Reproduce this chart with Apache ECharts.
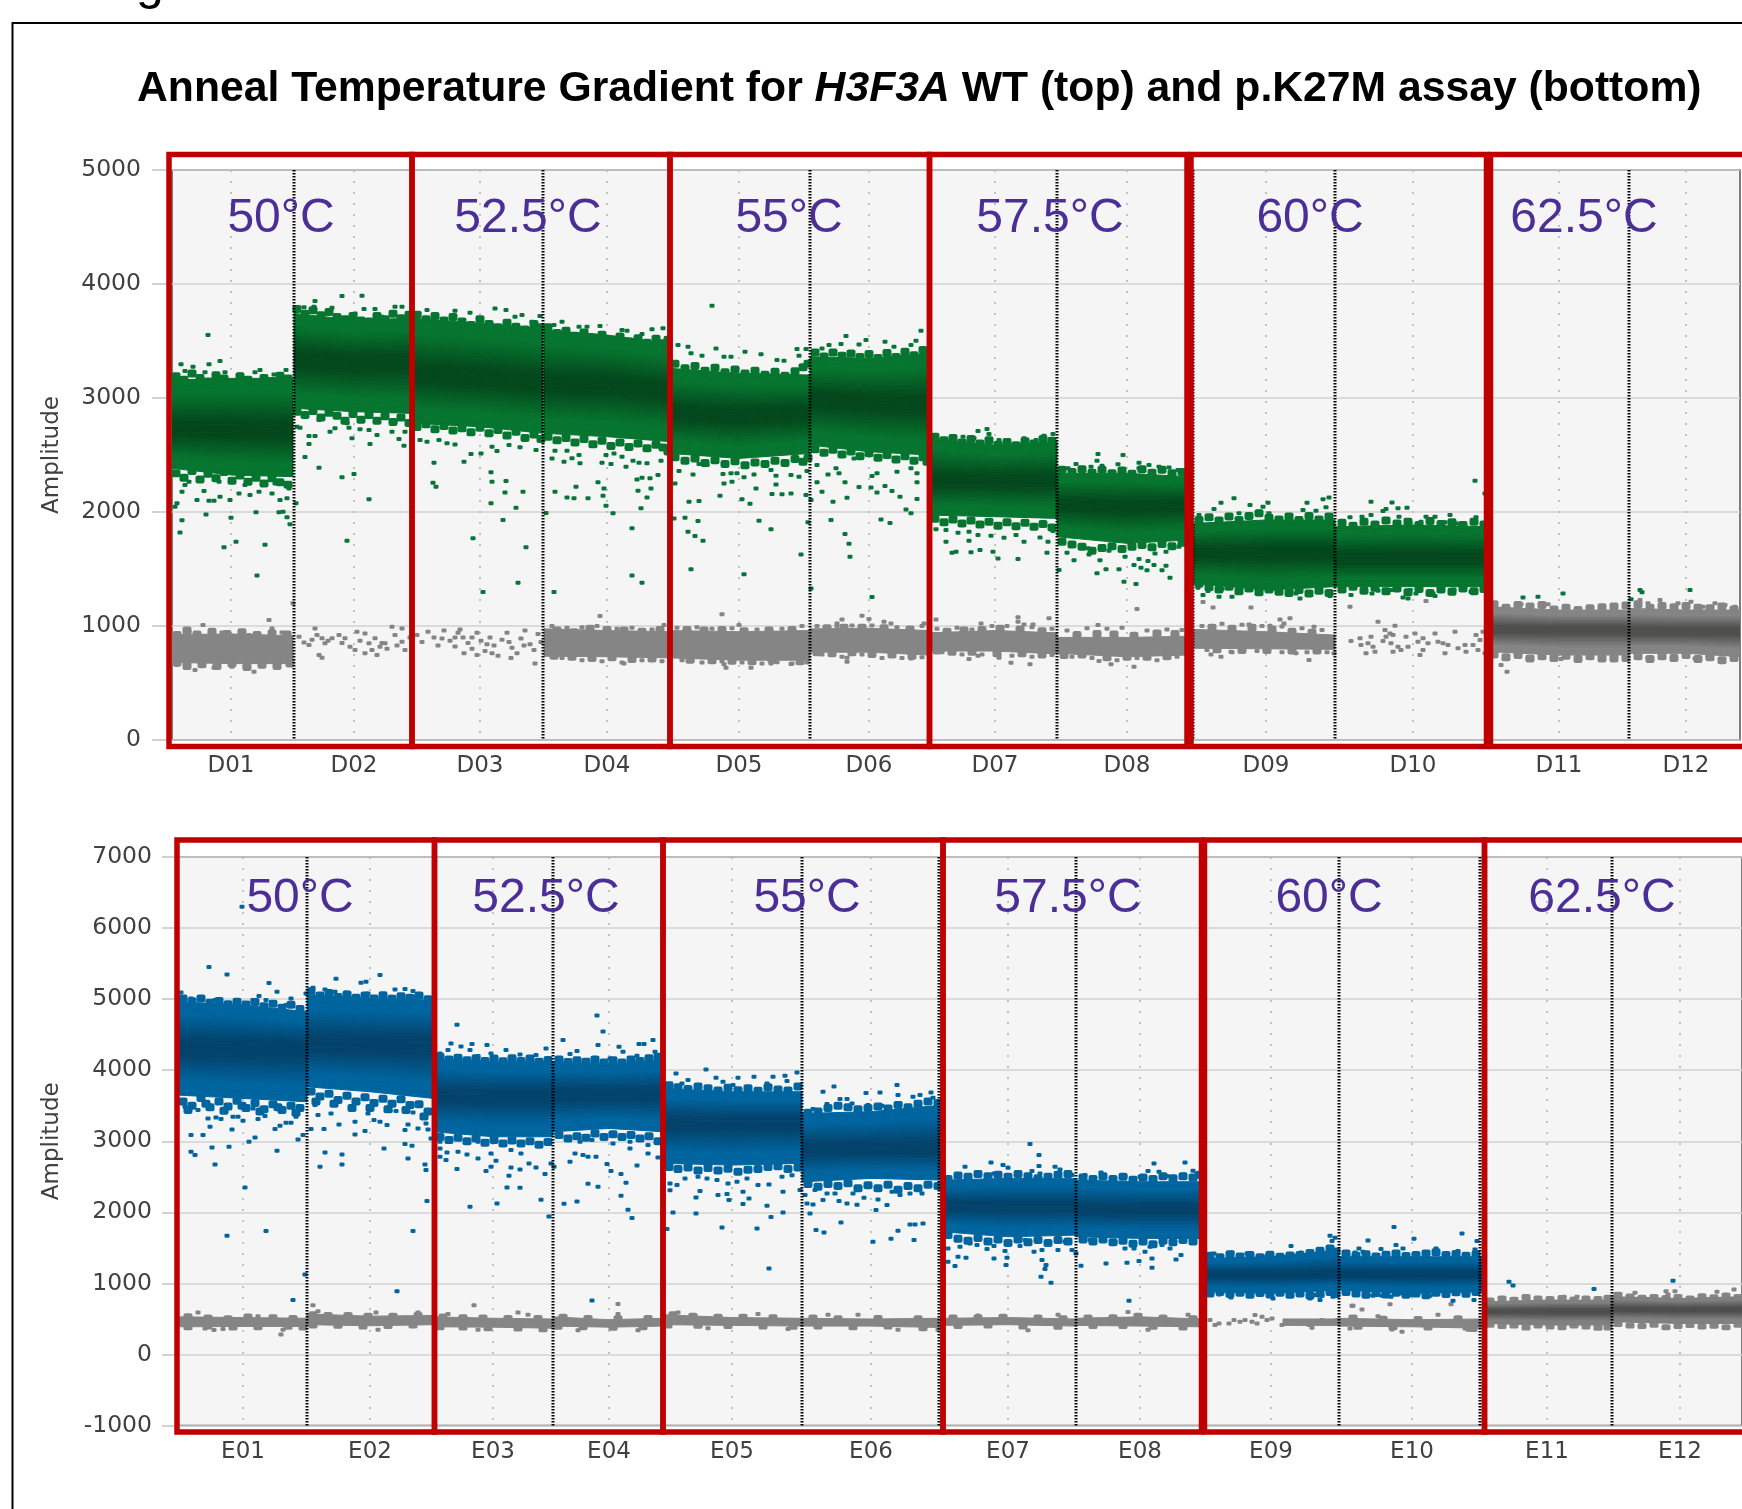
<!DOCTYPE html>
<html><head><meta charset="utf-8"><style>html,body{margin:0;padding:0;background:#fff}#c{width:1742px;height:1509px}</style>
<script src="https://cdn.jsdelivr.net/npm/echarts@6/dist/echarts.min.js"></script></head><body><div id="c"></div>
<script>
// ---------- DATA (x = droplet event number, y = amplitude) ----------
const topWells=['D01','D02','D03','D04','D05','D06','D07','D08','D09','D10','D11','D12'];
const bottomWells=['E01','E02','E03','E04','E05','E06','E07','E08','E09','E10','E11','E12'];
const topCenters=[59,182,308,435,567,697,823,955,1094,1241,1387,1514];
const bottomCenters=[65,192,315,431,554,693,830,962,1093,1234,1369,1502];
const topDividers=[122,240,371,498,638,757,885,1021,1163,1316,1457];
const bottomDividers=[129,256,375,485,624,761,898,1025,1161,1302,1434];
const temperatures=['50°C','52.5°C','55°C','57.5°C','60°C','62.5°C'];
const topTempEvents=[109,356,617,878,1138,1412];
const bottomTempEvents=[122,368,629,890,1151,1424];
const topTempAmp=4575, bottomTempAmp=6410;
const titleParts=['Anneal Temperature Gradient for ','H3F3A',' WT (top) and p.K27M assay (bottom)'];
// dense droplet bands: rows of [event, upper edge, centre, lower edge]
const greenBands=[
[[0,3158,2719,2383],[60,3172,2719,2324],[121,3172,2705,2310]],
[[122,3742,3333,2909],[182,3684,3304,2880],[240,3699,3304,2865]],
[[241,3699,3201,2778],[308,3655,3172,2748],[371,3611,3128,2690]],
[[372,3596,3114,2690],[435,3552,3114,2661],[498,3479,3055,2617]],
[[498,3260,2865,2514],[567,3216,2836,2470],[638,3202,2865,2514]],
[[638,3362,2982,2587],[697,3348,2953,2529],[757,3392,2938,2500]],
[[757,2646,2266,1973],[823,2587,2266,1959],[885,2617,2266,1944]],
[[885,2339,2061,1783],[955,2339,2046,1725],[1016,2310,2061,1754]],
[[1021,1900,1637,1374],[1094,1930,1637,1315],[1163,1930,1637,1345]],
[[1163,1871,1593,1345],[1241,1886,1593,1345],[1316,1871,1593,1345]]];
const darkGrayTopBands=[
[[1316,1169,964,775],[1387,1140,964,745],[1457,1140,964,745]],
[[1457,1155,950,760],[1514,1140,950,760],[1568,1140,950,731]]];
const grayTopBands=[
[[0,925,800,680],[60,930,800,670],[121,915,800,670]],
[[372,975,850,735],[435,960,840,730],[498,950,830,720]],
[[498,960,830,720],[567,950,820,700],[638,960,830,700]],
[[638,975,870,770],[697,980,870,770],[757,960,850,745]],
[[757,940,860,780],[823,960,860,780],[885,940,840,755]],
[[885,900,820,760],[955,900,810,730],[1016,910,810,745]],
[[1021,970,880,805],[1094,950,870,800],[1163,920,850,795]]];
const blueBands=[
[[0,4963,4307,3650],[65,4917,4307,3603],[129,4823,4307,3556]],
[[129,5057,4354,3767],[192,5010,4354,3697],[256,4987,4354,3603]],
[[256,4166,3627,3134],[315,4119,3627,3064],[375,4119,3627,3064]],
[[375,4119,3650,3134],[431,4096,3650,3181],[485,4143,3650,3134]],
[[485,3744,3252,2689],[554,3697,3252,2665],[624,3697,3252,2689]],
[[624,3392,2876,2431],[693,3416,2876,2478],[764,3509,2876,2454]],
[[764,2454,2079,1727],[830,2478,2079,1657],[898,2478,2079,1680]],
[[898,2454,2032,1657],[962,2431,2032,1634],[1025,2431,2032,1634]],
[[1025,1352,1118,883],[1093,1376,1118,860],[1161,1469,1118,907]],
[[1161,1376,1118,907],[1234,1376,1118,860],[1305,1376,1118,883]]];
const darkGrayBottomBands=[
[[1305,742,602,437],[1369,766,602,414],[1434,766,602,414]],
[[1434,813,625,461],[1502,789,625,437],[1564,813,625,437]]];
const grayBottomBands=[
[[0,530,460,390],[65,520,450,395],[129,510,440,395]],
[[129,570,490,420],[192,540,470,405],[256,550,480,420]],
[[256,530,460,390],[315,510,440,385],[375,500,430,370]],
[[375,530,470,400],[431,490,440,385],[485,510,450,400]],
[[485,560,480,420],[554,520,460,410],[624,510,450,400]],
[[624,510,450,400],[693,500,450,400],[764,510,450,380]],
[[764,510,460,410],[830,520,470,420],[898,500,450,400]],
[[898,510,460,410],[962,530,470,400],[1025,500,450,390]],
[[1105,500,460,410],[1130,500,455,410],[1161,500,455,410]],
[[1161,510,460,400],[1234,490,440,390],[1305,500,450,370]]];
// individually readable droplets
const greenDroplets=[[36,3552],[48,3324],[9,3295],[21,3275],[37,3295],[88,3245],[114,3245],[68,3207],[33,3225],[13,3237],[102,3207],[53,3225],[83,3225],
[13,2237],[10,2178],[25,2105],[37,2099],[42,2099],[5,2076],[3,2047],[32,2184],[48,2134],[58,2105],[67,2163],[78,2149],[87,2178],[100,2163],[108,2105],[115,2120],[117,2207],[47,2266],[73,2237],[92,2237],[17,2266],[60,2266],[103,2251],[34,1979],[59,1950],[84,1997],[107,1997],[111,2003],[115,1953],[10,1927],[118,1892],[8,1821],[64,1740],[52,1690],[93,1713],[85,1444],
[143,3851],[170,3894],[190,3897],[132,3795],[142,3801],[160,3792],[192,3780],[203,3780],[223,3801],[230,3801],[210,3713],[183,3742],
[125,2748],[128,2740],[133,2836],[147,2807],[137,2666],[143,2666],[137,2596],[158,2704],[163,2734],[175,2778],[177,2740],[188,2725],[197,2719],[180,2646],[198,2596],[205,2675],[220,2704],[227,2640],[232,2581],[233,2704],[133,2482],[147,2389],[170,2304],[182,2333],[197,2111],[124,2076],[175,1748],[223,2792],
[255,3772],[247,3742],[283,3766],[298,3748],[323,3786],[334,3772],[343,3713],[350,3728],[360,3669],[368,3719],[320,3640],
[248,2631],[255,2617],[267,2631],[275,2602],[283,2593],[262,2432],[292,2441],[299,2508],[309,2514],[320,2573],[325,2535],[337,2587],[348,2567],[364,2544],[319,2348],[320,2266],[334,2272],[261,2257],[264,2222],[333,2172],[351,2178],[319,2076],[344,2038],[331,1930],[301,1769],[354,1690],[346,1380],[311,1298],
[390,3669],[382,3640],[380,2470],[383,2538],[383,2178],[374,1991],[382,1298],
[407,3625],[415,3625],[428,3631],[450,3596],[455,3590],[480,3602],[491,3611],[470,3561],[419,3552],[432,3508],
[395,2538],[407,2500],[400,2471],[392,2441],[430,2432],[439,2421],[408,2427],[434,2500],[442,2514],[450,2485],[454,2397],[461,2450],[475,2427],[467,2432],[489,2450],[470,2301],[465,2286],[478,2295],[486,2324],[404,2222],[426,2260],[432,2207],[431,2143],[466,2187],[479,2207],[395,2128],[402,2120],[416,2120],[475,2128],[434,2055],[469,2032],[441,1988],[460,1857],[460,1444],[470,1380],
[540,3810],[506,3465],[516,3450],[544,3435],[519,3392],[530,3371],[552,3362],[573,3406],[589,3383],[559,3362],[612,3327],[625,3430],[634,3430],[627,3371],[605,3333],
[507,2359],[512,2441],[527,2421],[521,2330],[535,2412],[551,2333],[559,2339],[565,2339],[572,2304],[582,2330],[599,2368],[604,2318],[619,2324],[627,2310],[635,2359],[552,2251],[560,2266],[503,2251],[584,2207],[604,2242],[548,2143],[570,2111],[600,2158],[610,2155],[619,2163],[634,2149],[578,2073],[517,2090],[527,2096],[502,1944],[513,1950],[526,1921],[516,1827],[523,1789],[531,1748],[587,1924],[599,1848],[636,1909],[629,1628],[519,1497],[572,1453],[639,2105],[639,1330],
[674,3544],[694,3509],[713,3494],[744,3503],[749,3590],[657,3465],[687,3470],[722,3450],[739,3465],[669,3473],[650,3435],
[645,2412],[656,2330],[664,2383],[667,2339],[682,2470],[700,2315],[705,2339],[725,2354],[739,2383],[745,2339],[645,2260],[650,2178],[673,2260],[687,2219],[699,2216],[713,2228],[720,2184],[705,2172],[745,2260],[728,2134],[661,2090],[675,2125],[745,2114],[734,2023],[739,1988],[659,1930],[709,1935],[718,1903],[673,1807],[677,1722],[678,1608],[700,1254],[764,1848],[774,1842],[774,1740],[780,1643],
[806,2710],[815,2728],[817,2684],[791,2661],[802,2646],[827,2631],[852,2646],[872,2669],[881,2684],[864,2631],
[786,1819],[797,1827],[806,1798],[819,1792],[832,1775],[797,1748],[844,1798],[852,1740],[868,1777],[876,1740],[881,1833],[799,1646],[808,1666],[821,1652],[826,1593],[846,1587],[875,1643],[887,1491],[784,1652],
[926,2509],[951,2500],[925,2450],[904,2421],[919,2397],[930,2406],[946,2418],[967,2432],[967,2383],[977,2412],[987,2397],[997,2391],[1006,2368],[896,2383],
[916,1681],[917,1628],[928,1576],[895,1643],[902,1576],[937,1660],[953,1608],[967,1587],[976,1570],[983,1637],[994,1652],[1007,1696],[962,1535],[969,1512],[975,1488],[982,1535],[994,1529],[990,1488],[934,1497],[947,1497],[925,1462],[998,1424],[952,1389],[964,1368],
[1062,2120],[1049,2082],[1042,2026],[1027,1973],[1078,2061],[1096,2082],[1091,2047],[1135,2082],[1151,2111],[1157,2128],[1154,2041],[1131,2017],[1144,2011],[1037,1944],[1067,1988],[1086,2003],[1097,1988],[1117,1930],
[1026,1336],[1031,1272],[1036,1307],[1047,1257],[1050,1324],[1060,1257],[1069,1345],[1086,1307],[1104,1324],[1119,1307],[1124,1286],[1128,1242],[1147,1301],[1158,1263],
[1303,2275],[1313,2163],[1199,2090],[1220,2084],[1214,2026],[1226,2032],[1235,2038],[1211,2008],[1199,1973],[1190,1959],[1178,1953],[1227,1959],[1254,1959],[1263,1959],[1278,1973],[1304,1953],[1273,1909],[1286,1900],[1249,1915],
[1179,1272],[1200,1286],[1206,1310],[1219,1315],[1231,1251],[1236,1242],[1244,1286],[1238,1315],[1261,1286],[1263,1263],[1282,1321],[1299,1301],[1193,1339],
[1351,1251],[1366,1257],[1391,1286],[1459,1234],[1468,1315],[1470,1295],[1518,1315]];
const greenFringe=[[4,3190],[12,3160],[20,3215],[28,3175],[36,3145],[44,3200],[52,3170],[60,3135],[68,3190],[76,3160],[84,3130],[92,3175],[100,3150],[108,3195],[116,3170],
[4,2340],[12,2300],[20,2360],[28,2285],[36,2335],[44,2295],[52,2350],[60,2275],[68,2320],[76,2265],[84,2300],[92,2250],[100,2295],[108,2260],[116,2240],
[125,3780],[133,3740],[141,3770],[149,3725],[157,3755],[165,3710],[173,3690],[181,3720],[189,3680],[197,3670],[205,3720],[213,3690],[221,3740],[229,3700],[237,3730],
[125,2880],[133,2850],[141,2885],[149,2830],[157,2870],[165,2845],[173,2800],[181,2860],[189,2810],[197,2850],[205,2800],[213,2840],[221,2790],[229,2830],[237,2780],
[245,3730],[254,3690],[263,3720],[272,3680],[281,3710],[290,3670],[299,3640],[308,3690],[317,3650],[326,3620],[335,3660],[344,3625],[353,3600],[362,3650],[369,3620],
[245,2745],[254,2770],[263,2725],[272,2755],[281,2715],[290,2735],[299,2700],[308,2740],[317,2690],[326,2720],[335,2670],[344,2705],[353,2650],[362,2680],[369,2640],
[376,3620],[385,3570],[394,3590],[403,3545],[412,3575],[421,3530],[430,3555],[439,3510],[448,3540],[457,3495],[466,3525],[475,3485],[484,3520],[491,3480],[496,3510],
[376,2660],[385,2630],[394,2650],[403,2610],[412,2640],[421,2595],[430,2625],[439,2580],[448,2610],[457,2570],[466,2600],[475,2560],[484,2590],[491,2565],[496,2530],
[503,3300],[513,3260],[523,3280],[533,3240],[543,3265],[553,3225],[563,3250],[573,3215],[583,3240],[593,3205],[603,3230],[613,3195],[623,3235],[631,3270],[636,3300],
[503,2480],[513,2450],[523,2470],[533,2430],[543,2455],[553,2420],[563,2445],[573,2410],[583,2435],[593,2420],[603,2450],[613,2430],[623,2465],[631,2440],[636,2475],
[643,3400],[652,3365],[661,3400],[670,3370],[679,3390],[688,3360],[697,3385],[706,3350],[715,3395],[724,3360],[733,3405],[742,3375],[751,3420],[755,3390],
[643,2550],[652,2520],[661,2545],[670,2505],[679,2530],[688,2490],[697,2515],[706,2475],[715,2500],[724,2460],[733,2490],[742,2450],[751,2480],[755,2440],
[763,2660],[772,2630],[781,2650],[790,2610],[799,2640],[808,2600],[817,2630],[826,2590],[835,2615],[844,2585],[853,2620],[862,2600],[871,2640],[880,2625],
[763,1940],[772,1910],[781,1935],[790,1900],[799,1925],[808,1890],[817,1915],[826,1880],[835,1910],[844,1875],[853,1905],[862,1870],[871,1895],[880,1865],
[890,2370],[900,2350],[910,2375],[920,2345],[930,2370],[940,2340],[950,2365],[960,2335],[970,2375],[980,2345],[990,2370],[1000,2340],[1010,2350],
[890,1740],[900,1715],[910,1695],[920,1660],[930,1685],[940,1700],[950,1675],[960,1695],[970,1710],[980,1690],[990,1720],[1000,1700],[1010,1730],
[1027,1930],[1037,1955],[1047,1925],[1057,1960],[1067,1930],[1077,1965],[1087,1990],[1097,1950],[1107,1935],[1117,1960],[1127,1930],[1137,1965],[1147,1935],[1157,1960],
[1027,1370],[1037,1340],[1047,1320],[1057,1345],[1067,1305],[1077,1330],[1087,1295],[1097,1320],[1107,1300],[1117,1290],[1127,1315],[1137,1285],[1147,1310],[1157,1290],
[1170,1905],[1181,1880],[1192,1915],[1203,1890],[1214,1925],[1225,1900],[1236,1915],[1247,1885],[1258,1920],[1269,1895],[1280,1910],[1291,1885],[1302,1915],[1312,1890],
[1170,1320],[1181,1345],[1192,1310],[1203,1335],[1214,1305],[1225,1330],[1236,1295],[1247,1325],[1258,1290],[1269,1320],[1280,1300],[1291,1330],[1302,1305],[1312,1325]];
const grayTopDroplets=[[31,1008],[97,1052],[100,979],[82,599],[23,614],[5,658],[42,634],[60,643],[121,1199],[17,950],[50,944],[77,921],[110,944],[30,658],[73,643],[117,664],
[127,906],[132,856],[137,833],[143,979],[145,921],[150,892],[153,848],[160,892],[167,921],[173,892],[178,818],[185,950],[193,935],[197,848],[200,789],[205,745],[208,818],[213,848],[220,994],[230,979],[223,921],[230,862],[233,789],[147,745],[150,722],[183,789],[193,760],[203,892],[170,850],[188,870],[215,800],[225,830],[238,900],[140,880],[156,870],[210,850],
[245,920],[250,860],[256,950],[262,900],[266,830],[272,960],[278,870],[283,820],[288,970],[291,900],[296,850],[300,800],[305,940],[309,870],[313,780],[318,900],[322,830],[326,740],[330,880],[335,940],[340,810],[345,760],[349,890],[353,960],[358,840],[362,790],[366,930],[369,860],[286,940],[300,900],[315,840],[337,860],[352,830],[270,890],[283,900],[292,760],[320,760],[339,720],[363,670],[305,745],
[380,1000],[395,985],[410,990],[425,1000],[445,975],[460,985],[480,970],[390,720],[410,700],[430,690],[450,680],[470,700],[490,690],
[505,985],[525,990],[540,975],[560,980],[585,970],[610,975],[630,1000],[510,700],[530,680],[550,690],[570,680],[590,670],[620,670],[635,680],
[645,1000],[665,1000],[680,1005],[700,1005],[725,990],[750,1000],[650,750],[670,730],[690,750],[710,720],[730,720],[750,725],
[765,975],[785,985],[800,970],[820,1000],[835,1000],[860,990],[880,975],[770,770],[790,750],[810,750],[840,740],[860,730],[880,745],
[895,960],[915,980],[935,975],[950,985],[975,960],[995,970],[1010,965],[900,730],[920,720],[945,700],[965,720],[985,700],[1005,730],
[1030,1000],[1050,1020],[1070,1010],[1090,1000],[1110,995],[1130,980],[1150,965],[1035,790],[1060,770],[1085,780],[1110,770],[1135,770],[1155,770],
[428,1088],[550,1102],[567,1008],[452,672],[520,693],[552,664],[554,634],[579,634],[599,672],[619,667],[605,681],[670,1058],[690,1090],[697,1061],[712,1038],[719,1023],[675,687],[675,722],[764,1058],[752,1023],[665,1023],[492,1008],[739,716],
[846,1076],[877,1067],[809,1023],[926,1008],[965,1149],[846,1038],[852,1014],[861,1014],[797,710],[839,678],[858,664],[827,722],[806,739],[939,664],[962,643],[927,693],[1031,1210],[1041,1163],[1079,1163],[1077,1014],[1098,1003],[1108,1058],[1118,1067],[1112,1023],[1142,994],[1039,751],[1049,731],[1059,775],[1124,760],[1137,702],[1162,760],
[1178,1169],[1254,1219],[1206,1038],[1223,1003],[1213,965],[1218,935],[1221,921],[1214,906],[1179,868],[1188,892],[1189,833],[1199,906],[1196,848],[1201,818],[1194,760],[1203,775],[1211,868],[1219,848],[1226,818],[1221,775],[1229,789],[1234,906],[1243,935],[1246,862],[1251,892],[1256,848],[1248,745],[1263,935],[1266,862],[1271,848],[1276,833],[1283,950],[1273,760],[1286,804],[1293,833],[1294,775],[1304,921],[1301,833],[1308,877],[1306,789],[1311,950],[1313,760],[1251,789],[1236,818],
[1329,658],[1335,599],[1389,994],[1403,994],[1463,1023],[1488,1228],[1468,1228],[1519,1213],[1543,1199],[1506,1199],[1531,1169],[1443,1184],[1376,1190],[1349,1190],[1476,1199],[1563,1169],[1553,1184],[1523,716],[1536,731],[1429,710],[1356,716],[1389,710],[1476,722]];
const grayTopFringe=[[5,920],[15,960],[25,925],[40,950],[55,930],[70,945],[85,920],[100,935],[115,925],[5,680],[15,650],[30,665],[45,650],[60,670],[75,640],[90,660],[105,650],[118,670],
[385,960],[402,945],[418,975],[435,965],[452,960],[470,950],[488,965],[382,740],[400,730],[420,720],[440,725],[460,710],[480,715],
[515,965],[532,960],[550,965],[572,955],[597,960],[620,965],[518,705],[540,700],[560,695],[580,690],[600,705],[628,690],
[655,980],[672,985],[690,985],[712,980],[738,970],[645,770],[660,760],[680,770],[700,755],[720,750],[740,740],
[775,950],[792,960],[810,965],[828,975],[848,970],[870,955],[765,785],[780,775],[800,775],[825,760],[850,760],[870,750],
[905,920],[925,930],[942,925],[962,915],[985,935],[1003,930],[892,745],[910,750],[935,725],[955,730],[975,730],[995,735],
[1040,985],[1060,975],[1080,985],[1100,970],[1120,950],[1140,940],[1045,795],[1070,790],[1095,790],[1120,785],[1145,785],
[1322,1190],[1334,1160],[1346,1185],[1358,1170],[1370,1185],[1382,1145],[1394,1160],[1406,1140],[1418,1155],[1430,1165],[1442,1170],[1454,1180],[1466,1190],[1478,1160],[1490,1175],[1502,1165],[1514,1175],[1526,1160],[1538,1155],[1550,1170],[1562,1145],
[1322,750],[1334,725],[1346,745],[1358,715],[1370,735],[1382,720],[1394,740],[1406,710],[1418,735],[1430,715],[1442,715],[1454,720],[1466,735],[1478,710],[1490,735],[1502,720],[1514,745],[1526,710],[1538,725],[1550,700],[1562,720]];
const blueDroplets=[[31,5451],[49,5348],[91,5226],[99,5104],[81,5043],[113,5010],[128,5081],[13,5010],[37,4987],[88,4987],[75,4987],[108,4917],[3,5095],
[158,5287],[202,5339],[135,5160],[183,5231],[188,5245],[217,5137],[227,5142],[235,5113],[238,5034],[147,5137],[168,5095],[157,5104],[190,5081],[213,5034],[225,5034],
[13,3087],[25,3087],[13,2853],[17,2806],[34,2914],[51,2923],[37,2675],[54,3167],[32,3205],[43,3313],[30,3322],[38,3336],[55,3345],[65,3289],[80,3313],[87,3355],[71,2994],[77,3055],[97,3172],[102,3219],[108,3261],[118,3345],[113,3261],[120,3026],[125,3087],[99,2867],[67,2351],[49,1671],[88,1737],[127,1127],[115,766],[20,3439],[50,3472],[75,3463],[103,3416],[7,3486],[60,3345],[64,6300],
[133,3172],[146,3172],[161,3237],[177,3275],[187,3144],[177,3097],[190,3392],[196,3298],[202,3275],[209,3228],[153,3392],[140,3369],[137,3510],[212,3425],[218,3425],[235,3406],[227,3158],[240,3181],[248,3252],[250,3167],[230,3237],[227,2961],[234,2937],[206,2900],[147,2844],[164,2815],[142,2642],[164,2675],[230,2759],[247,2675],[248,2595],[249,2159],[235,1737],[219,892],[253,3040],
[279,4640],[273,4377],[283,4335],[294,4368],[309,4354],[292,4283],[270,4283],[262,4236],[328,4283],[342,4222],[358,4213],[368,4307],[313,4236],[385,4424],[300,4199],
[262,2900],[269,2844],[262,2782],[280,2853],[289,2815],[300,2759],[268,2736],[279,2609],[308,2581],[313,2642],[318,2726],[313,2829],[333,2632],[342,2604],[331,2515],[351,2689],[358,2632],[367,2539],[329,2351],[342,2346],[292,2079],[319,2126],[363,2177],[371,1943],[386,2121],[343,2829],[373,2689],[376,2642],[262,2994],[300,2994],[333,2876],
[419,4771],[425,4546],[420,4354],[441,4330],[445,4260],[461,4368],[466,4368],[475,4424],[477,4260],[399,4269],[392,4227],[459,4204],[432,4166],
[402,2994],[414,3017],[435,2970],[452,2994],[452,2900],[470,2947],[470,2829],[397,2829],[405,2806],[410,2782],[418,2782],[429,2679],[433,2581],[443,2539],[459,2661],[448,2417],[410,2403],[420,2360],[443,2234],[399,2154],[450,2037],[454,1920],[480,2773],[392,2712],[414,761],
[498,3955],[528,4011],[538,3894],[545,3838],[560,3894],[576,3908],[595,3908],[607,3922],[619,3969],[589,3814],[609,3847],[504,3814],[510,3861],[555,3791],[492,3744],
[492,2407],[499,2384],[492,2313],[507,2478],[520,2501],[529,2478],[539,2454],[550,2407],[559,2431],[569,2478],[580,2384],[591,2393],[605,2290],[604,2501],[614,2524],[522,2299],[518,2210],[540,2243],[549,2257],[551,2173],[565,2117],[571,2196],[565,2290],[589,2093],[495,2000],[518,1985],[593,1934],[605,2000],[544,1788],[579,1774],[489,1765],[591,1211],[622,2314],
[645,3697],[656,3772],[688,3678],[702,3688],[719,3791],[720,3650],[753,3688],[742,3650],[735,3627],[755,3613],[662,3594],[669,3594],[690,3509],[704,3500],[674,3533],[649,3524],[635,3453],[722,3533],
[627,2243],[637,2314],[649,2267],[657,2267],[675,2267],[686,2206],[700,2182],[714,2290],[722,2243],[732,2267],[744,2267],[629,2126],[635,2112],[645,2173],[661,2159],[669,2126],[679,2107],[709,2103],[632,1985],[698,2032],[663,1859],[638,1751],[646,1718],[695,1587],[713,1629],[720,1741],[732,1830],[737,1830],[745,1845],[736,1610],[770,1305],[777,1244],[782,1516],[780,1376],[770,1493],
[852,2961],[861,2806],[813,2703],[825,2665],[830,2628],[861,2651],[877,2642],[882,2604],[787,2642],[854,2581],[862,2548],[880,2511],[801,2539],[816,2548],[841,2525],[894,2525],
[792,1563],[799,1540],[809,1483],[816,1526],[827,1455],[816,1352],[788,1361],[829,1361],[828,1258],[842,1526],[856,1446],[864,1469],[880,1469],[894,1469],[864,1329],[868,1258],[867,1202],[863,1094],[873,1010],[847,1610],[871,1587],[887,1587],
[923,2562],[976,2689],[1007,2703],[970,2581],[981,2572],[1015,2586],[907,2525],[947,2511],[962,2501],[989,2511],[1006,2534],[1019,2548],
[903,1249],[898,1422],[912,1610],[926,1610],[937,1587],[947,1493],[956,1493],[967,1446],[972,1516],[984,1540],[992,1493],[974,1352],[928,1282],[949,1291],[961,1315],[974,1221],[998,1338],[1003,1399],[951,757],
[1113,1526],[1152,1671],[1157,1643],[1154,1596],[1123,1436],[1036,1422],[1054,1436],[1069,1422],[1142,1422],[1089,1390],[1101,1390],
[1041,846],[1053,803],[1071,827],[1095,789],[1132,789],[1137,836],[1144,827],[1142,766],[1155,813],
[1216,1793],[1284,1704],[1236,1629],[1190,1605],[1299,1596],[1218,1540],[1225,1493],[1181,1493],[1203,1483],[1258,1493],[1297,1479],[1280,1455],[1177,1437],[1185,1446],
[1190,836],[1204,827],[1213,813],[1234,836],[1224,860],[1252,827],[1195,827],[1275,757],[1296,766],
[1331,1024],[1335,972],[1416,921],[1495,1038]];
const blueFringe=[[5,5010],[14,4970],[23,5010],[32,4950],[41,4975],[50,4930],[59,4965],[68,4925],[77,4960],[86,4900],[95,4935],[104,4880],[113,4920],[122,4860],
[5,3560],[14,3500],[23,3610],[32,3480],[41,3560],[50,3490],[59,3570],[68,3470],[77,3540],[86,3450],[95,3520],[104,3440],[113,3500],[122,3470],[10,3440],[28,3530],[46,3430],[64,3500],[82,3420],[100,3480],[118,3400],
[133,5110],[142,5050],[151,5085],[160,5030],[169,5065],[178,5020],[187,5050],[196,5010],[205,5055],[214,5005],[223,5040],[232,5020],[241,5050],[250,5000],
[133,3700],[142,3630],[151,3670],[160,3580],[169,3640],[178,3560],[187,3620],[196,3540],[205,3600],[214,3530],[223,3590],[232,3510],[241,3520],[250,3420],[138,3560],[156,3530],[174,3470],[192,3470],[210,3450],[228,3440],[246,3350],
[262,4190],[271,4150],[280,4175],[289,4140],[298,4170],[307,4130],[316,4165],[325,4125],[334,4170],[343,4130],[352,4165],[361,4120],[370,4145],
[262,3060],[271,3020],[280,3050],[289,3000],[298,3040],[307,2980],[316,3020],[325,2970],[334,3010],[343,2970],[352,3000],[361,2950],[370,2990],
[381,4150],[390,4115],[399,4140],[408,4120],[417,4150],[426,4110],[435,4140],[444,4110],[453,4150],[462,4130],[471,4170],[480,4190],
[381,3090],[390,3040],[399,3070],[408,3050],[417,3110],[426,3060],[435,3100],[444,3060],[453,3090],[462,3040],[471,3070],[480,3000],
[491,3790],[500,3760],[510,3735],[520,3770],[530,3745],[540,3715],[550,3755],[560,3720],[570,3745],[580,3710],[590,3760],[600,3730],[610,3715],[620,3770],
[491,2640],[500,2610],[510,2630],[520,2590],[530,2625],[540,2590],[550,2615],[560,2570],[570,2600],[580,2610],[590,2640],[600,2650],[610,2610],[620,2630],
[630,3400],[640,3420],[650,3470],[660,3500],[670,3480],[680,3450],[690,3470],[700,3490],[710,3460],[720,3510],[730,3480],[740,3530],[750,3560],[760,3540],
[630,2400],[640,2360],[650,2400],[660,2370],[670,2410],[680,2340],[690,2380],[700,2340],[710,2390],[720,2320],[730,2370],[740,2340],[750,2390],[760,2370],
[770,2470],[780,2520],[790,2500],[800,2540],[810,2510],[820,2530],[830,2500],[840,2540],[850,2510],[860,2480],[870,2500],[880,2530],[890,2540],
[770,1680],[780,1630],[790,1600],[800,1640],[810,1590],[820,1620],[830,1570],[840,1620],[850,1580],[860,1610],[870,1570],[880,1610],[890,1590],
[905,2490],[915,2470],[925,2510],[935,2470],[945,2500],[955,2460],[965,2490],[975,2470],[985,2510],[995,2480],[1005,2510],[1015,2490],[1022,2530],
[905,1620],[915,1590],[925,1620],[935,1580],[945,1600],[955,1560],[965,1590],[975,1550],[985,1600],[995,1580],[1005,1610],[1015,1590],
[1032,1390],[1042,1370],[1052,1410],[1062,1380],[1072,1400],[1082,1370],[1092,1405],[1102,1375],[1112,1395],[1122,1400],[1132,1430],[1142,1460],[1152,1490],[1158,1450],
[1032,860],[1042,880],[1052,850],[1062,870],[1072,840],[1082,865],[1092,845],[1102,870],[1112,840],[1122,860],[1132,830],[1142,855],[1152,880],[1158,850],
[1168,1420],[1178,1390],[1188,1410],[1198,1380],[1208,1405],[1218,1420],[1228,1385],[1238,1400],[1248,1420],[1258,1440],[1268,1400],[1278,1415],[1288,1390],[1298,1410],
[1168,880],[1178,860],[1188,840],[1198,865],[1208,845],[1218,870],[1228,840],[1238,860],[1248,835],[1258,870],[1268,850],[1278,875],[1288,855],[1298,880]];
const grayBottomDroplets=[[135,695],[296,695],[340,592],[198,592],[103,283],[27,367],[36,344],[440,710],[1174,686],[1175,686],[1184,634],[1212,709],[1273,709],[1214,353],[1224,320],[1287,367],[1172,367],[1386,813],[1399,813],[1457,869],[1488,892],[1497,892],[1490,846],[1539,883],[1556,916],[1350,789],
[1032,484],[1041,437],[1051,437],[1056,484],[1062,461],[1067,484],[1077,555],[1079,437],[1089,484],[1094,508],[1104,414],[1112,461],[1121,461],[1131,414],[1137,461],[1144,484],[1156,461],[1159,484],[1117,437],[1134,377],[1037,414],[1074,461],[1084,531],
[20,590],[45,360],[80,540],[105,350],[140,610],[200,350],[240,590],[270,570],[300,350],[350,560],[400,340],[440,570],[460,340],[500,590],[530,370],[580,570],[610,360],[650,560],[680,560],[720,350],[760,350],[800,550],[850,340],[880,560],[950,600],[970,350],[1010,560],[1200,540],[1260,560],[1290,350]];
const grayBottomFringe=[[10,540],[30,520],[50,510],[70,535],[95,525],[115,515],[10,385],[30,395],[55,380],[80,385],[110,390],[125,380],
[135,565],[150,555],[170,555],[190,545],[215,545],[240,555],[135,410],[160,405],[185,395],[210,400],[235,410],
[265,535],[285,525],[305,520],[330,515],[360,515],[262,385],[285,380],[310,370],[340,365],[365,355],
[385,530],[410,515],[440,510],[470,515],[380,390],[405,385],[435,375],[465,385],
[495,565],[515,545],[540,530],[565,530],[595,525],[490,410],[520,405],[550,400],[585,395],[615,390],
[635,520],[660,510],[700,515],[740,510],[640,395],[675,385],[710,395],[745,370],
[775,520],[800,525],[825,530],[860,520],[885,510],[780,400],[810,410],[845,395],[880,390],
[910,520],[935,525],[960,545],[985,520],[1015,510],[915,400],[945,400],[975,390],[1005,380],
[1175,520],[1205,505],[1240,500],[1280,510],[1180,390],[1215,385],[1250,380],[1295,360],
[1312,760],[1324,790],[1336,770],[1348,810],[1360,790],[1372,780],[1384,795],[1396,775],[1408,790],[1420,780],[1430,800],[1440,840],[1452,815],[1464,800],[1476,810],[1488,795],[1500,810],[1512,790],[1524,820],[1536,805],[1548,830],[1560,810],
[1312,420],[1324,400],[1336,410],[1348,380],[1360,410],[1372,395],[1384,385],[1396,410],[1408,395],[1420,375],[1430,380],[1440,430],[1452,410],[1464,400],[1476,420],[1488,385],[1500,400],[1512,415],[1524,395],[1536,405],[1548,385],[1560,420]];

// ---------- STYLE / LAYOUT ----------
const LABEL_FONT='"DejaVu Sans"', ARIAL='"Liberation Sans"';
const RED='#C00000';
function hex(c){return [1,3,5].map(i=>parseInt(c.substr(i,2),16));}
function ramp(edge,dark,t){ // t: 0 at band centre, 1 at band edge
  const s=t<0.15?1:t>0.72?0:1-(t-0.15)/0.57; const a=hex(edge),b=hex(dark);
  return 'rgb('+a.map((v,i)=>Math.round(v+(b[i]-v)*s)).join(',')+')';
}
function bandSeries(rows,ax,edge,dark,z){
  return {type:'custom',xAxisIndex:ax,yAxisIndex:ax,z,silent:true,clip:true,animation:false,
    data:rows.map(w=>[w[0][0],w[0][2]]),encode:{x:0,y:1},
    renderItem(p,api){
      const w=rows[p.dataIndex],N=edge===dark?1:40,kids=[];
      const yAt=(r,f)=>f<0?r[2]+(r[1]-r[2])*(-f):r[2]-(r[2]-r[3])*f;
      for(let k=0;k<N;k++){
        const f1=-1+2*k/N,f2=-1+2*(k+1)/N,pts=[];
        w.forEach(r=>pts.push(api.coord([r[0],yAt(r,f1)])));
        w.slice().reverse().forEach(r=>pts.push(api.coord([r[0],yAt(r,f2)])));
        const col=ramp(edge,dark,Math.abs((f1+f2)/2));
        kids.push({type:'polygon',shape:{points:pts},style:{fill:col,stroke:col,lineWidth:1}});
      }
      return {type:'group',children:kids};
    }};
}
function vLines(xs,ax,yMin,yMax,style,z){
  return {type:'custom',xAxisIndex:ax,yAxisIndex:ax,z,silent:true,animation:false,
    data:xs.map(x=>[x,yMin]),encode:{x:0,y:1},
    renderItem(p,api){
      const a=api.coord([xs[p.dataIndex],yMax]),b=api.coord([xs[p.dataIndex],yMin]);
      return {type:'line',shape:{x1:a[0],y1:a[1],x2:b[0],y2:b[1]},style};
    }};
}
function dots(data,ax,color,z,size){
  return {type:'scatter',xAxisIndex:ax,yAxisIndex:ax,z,silent:true,animation:false,data,
    symbol:'roundRect',symbolSize:size||[5,4],itemStyle:{color,opacity:1}};
}
function temps(events,amp,ax){
  return {type:'scatter',xAxisIndex:ax,yAxisIndex:ax,z:9,silent:true,animation:false,
    data:events.map((e,i)=>({value:[e,amp],name:temperatures[i]})),symbolSize:0,
    itemStyle:{opacity:1},
    label:{show:true,position:'inside',formatter:p=>p.name,fontFamily:ARIAL,fontSize:48,color:'#4B2E96',opacity:1}};
}
function xAxisFor(centers,names,gi,max){
  return {type:'value',gridIndex:gi,min:0,max,position:'bottom',
    axisLine:{show:false},splitLine:{show:false},axisTick:{show:false},
    axisLabel:{customValues:centers,formatter:v=>names[centers.indexOf(v)],margin:15,
      fontFamily:LABEL_FONT,fontSize:23,color:'#404040'}};
}
function yAxisFor(gi,min,max,tickLen,margin,gap){
  return {type:'value',gridIndex:gi,min,max,interval:1000,
    name:'Amplitude',nameLocation:'middle',nameRotate:90,nameGap:gap,
    nameTextStyle:{fontFamily:LABEL_FONT,fontSize:23,color:'#404040'},
    axisLine:{show:false},
    axisTick:{show:true,length:tickLen,lineStyle:{color:'#c4c4c4',width:1.5}},
    axisLabel:{margin,formatter:v=>String(v),fontFamily:LABEL_FONT,fontSize:23.5,color:'#404040'},
    splitLine:{show:true,lineStyle:{color:'#d2d2d2',width:1.5}}};
}
const centerStyle={stroke:'#bcbcbc',lineWidth:1.8,lineDash:[2,9]};
const dividerStyle={stroke:'#000',lineWidth:3,lineDash:[1.5,1.5]};
const FRINGE=[9,8];
function box(x1,x2,y1,y2){return {type:'rect',z:50,silent:true,shape:{x:x1,y:y1,width:x2-x1,height:y2-y1},
  style:{fill:'none',stroke:RED,lineWidth:5.5}};}

const option={
  animation:false,backgroundColor:'#fff',
  title:{left:132,top:63,text:'{a|'+titleParts[0]+'}{i|'+titleParts[1]+'}{a|'+titleParts[2]+'}',
    textStyle:{rich:{
      a:{fontFamily:ARIAL,fontWeight:'bold',fontSize:42.7,color:'#000'},
      i:{fontFamily:ARIAL,fontWeight:'bold',fontStyle:'italic',fontSize:42.7,color:'#000'}}}},
  grid:[
    {left:172,top:170,width:1568,height:570,show:true,backgroundColor:'#f5f5f5',borderColor:'#555',borderWidth:1.5},
    {left:178,top:857,width:1564,height:568.6,show:true,backgroundColor:'#f5f5f5',borderColor:'#555',borderWidth:1.5}],
  xAxis:[xAxisFor(topCenters,topWells,0,1568),xAxisFor(bottomCenters,bottomWells,1,1564)],
  yAxis:[yAxisFor(0,0,5000,20,31,108),yAxisFor(1,-1000,7000,16,26,114)],
  graphic:[
    {type:'rect',z:40,silent:true,shape:{x:12.5,y:23,width:1800,height:1600},style:{fill:'none',stroke:'#000',lineWidth:2}},
    {type:'text',z:40,silent:true,x:136,y:-40,style:{text:'g',font:'50px '+ARIAL,fill:'#000'}},
    box(169,412,154.5,746.5),box(412,670,154.5,746.5),box(670,929.5,154.5,746.5),box(929.5,1187,154.5,746.5),box(1191,1486.5,154.5,746.5),box(1490.5,1780,154.5,746.5),
    box(177,434.5,840,1432),box(434.5,663,840,1432),box(663,943,840,1432),box(943,1201.5,840,1432),box(1204.5,1484.5,840,1432),box(1484.5,1780,840,1432)],
  series:[
    vLines(topCenters,0,0,5000,centerStyle,3),
    dots(grayTopFringe,0,'#858585',4,FRINGE),
    bandSeries(grayTopBands,0,'#858585','#858585',4),
    dots(grayTopDroplets,0,'#858585',4),
    dots(greenFringe,0,'#06752f',5,FRINGE),
    bandSeries(darkGrayTopBands,0,'#858585','#4f4f4d',5),
    bandSeries(greenBands,0,'#06752f','#03481c',5),
    dots(greenDroplets,0,'#07753a',5),
    vLines(topDividers,0,0,5000,dividerStyle,7),
    temps(topTempEvents,topTempAmp,0),
    vLines(bottomCenters,1,-1000,7000,centerStyle,3),
    dots(grayBottomFringe,1,'#858585',4,[9,6]),
    bandSeries(grayBottomBands,1,'#858585','#858585',4),
    dots(grayBottomDroplets,1,'#858585',4),
    dots(blueFringe,1,'#00659f',5,FRINGE),
    bandSeries(darkGrayBottomBands,1,'#808080','#4f4f4d',5),
    bandSeries(blueBands,1,'#00659f','#03436b',5),
    dots(blueDroplets,1,'#00659f',5),
    vLines(bottomDividers,1,-1000,7000,dividerStyle,7),
    temps(bottomTempEvents,bottomTempAmp,1)
  ]
};
echarts.init(document.getElementById('c')).setOption(option);
</script></body></html>
